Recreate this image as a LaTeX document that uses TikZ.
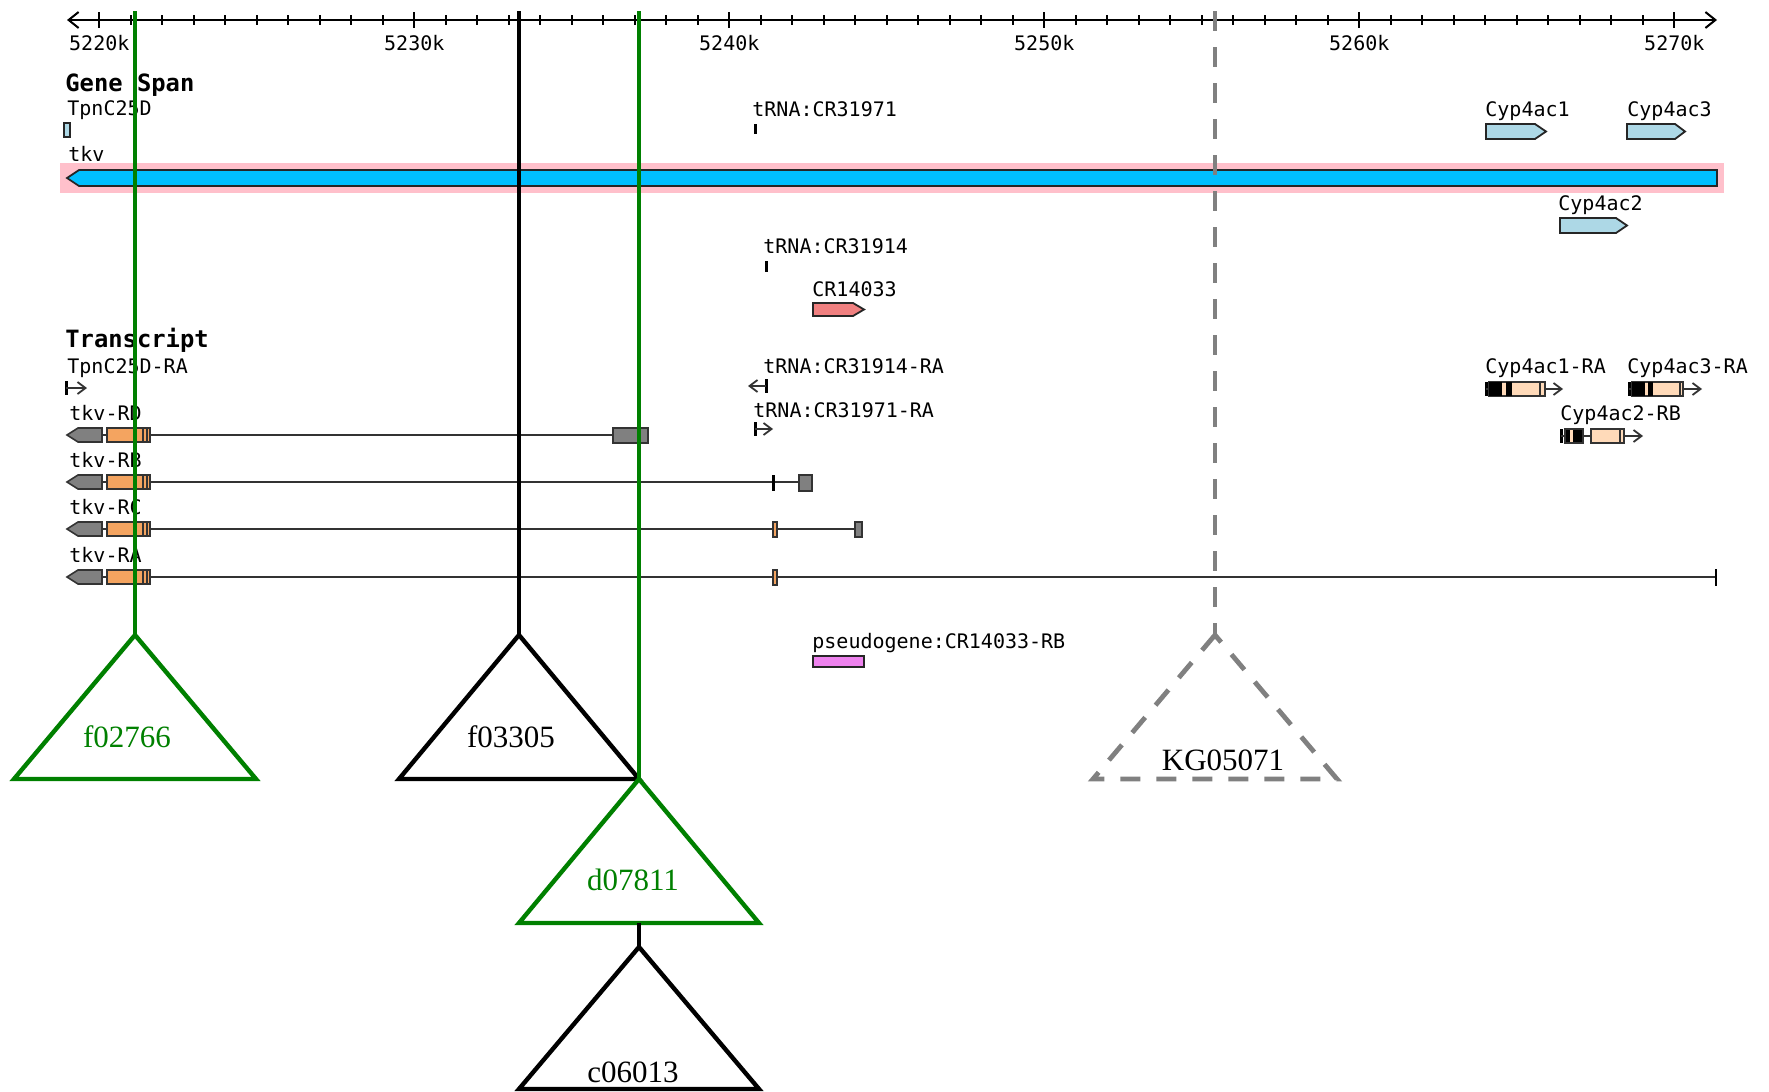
\documentclass[tikz,border=0pt]{standalone}
\usepackage{fontspec}
\setmainfont{Liberation Serif}
\setmonofont{DejaVu Sans Mono}
\usetikzlibrary{arrows.meta}

\definecolor{insgreen}{RGB}{0,128,0}
\definecolor{insgray}{RGB}{128,128,128}
\definecolor{hilite}{RGB}{255,192,203}
\definecolor{spanblue}{RGB}{0,191,255}
\definecolor{genecyp}{RGB}{173,216,230}
\definecolor{genered}{RGB}{240,128,128}
\definecolor{pseudoviolet}{RGB}{238,130,238}
\definecolor{utrgray}{RGB}{128,128,128}
\definecolor{cdsorange}{RGB}{244,164,96}
\definecolor{cyppeach}{RGB}{255,218,185}

\tikzset{
  glabel/.style={font=\ttfamily\fontsize{10}{12}\selectfont, anchor=base west, inner sep=0pt},
  trackname/.style={font=\ttfamily\bfseries\fontsize{11.9}{14}\selectfont, anchor=base west, inner sep=0pt},
  ticklabel/.style={font=\ttfamily\fontsize{10}{12}\selectfont, anchor=base, inner sep=0pt},
  inslabel/.style={font=\fontsize{15.5}{18}\selectfont, anchor=base, inner sep=0pt},
  axisline/.style={line width=1pt},
  gene/.style={draw=black!85, line width=0.9pt},
  exon/.style={draw=black!80, line width=0.8pt},
  intron/.style={draw=black!80, line width=0.9pt},
  tss/.style={intron, -{Straight Barb[length=4pt,width=6pt]}},
  startbar/.style={line width=1.5pt},
  insline/.style={line width=2pt},
  instri/.style={line width=2.2pt, line join=miter},
  insdash/.style={insgray, line width=2.4pt, dash pattern=on 10pt off 8pt},
}

\begin{document}
\begin{tikzpicture}[x=0.5pt,y=-0.5pt]
\useasboundingbox (0,0) rectangle (1769,1092);
\fill[white] (0,0) rectangle (1769,1092);

% ruler
\draw[axisline, {Straight Barb[length=5pt,width=8pt]}-{Straight Barb[length=5pt,width=8pt]}] (67,20) -- (1717,20);
\foreach \i in {0,...,50}
  \draw[axisline] (99.3+31.5*\i,15) -- (99.3+31.5*\i,25);
\foreach \i/\kb in {0/5220,1/5230,2/5240,3/5250,4/5260,5/5270} {
  \draw[axisline] (99.3+315*\i,12) -- (99.3+315*\i,28);
  \node[ticklabel] (tick\kb) at (99.3+315*\i,50) {\kb k};
}

% gene span track
\node[trackname] (genespan) at (65,91) {Gene Span};
\node[glabel] (tpnc) at (67,115) {TpnC25D};
\draw[gene, fill=genecyp] (64,123) rectangle (70,137);
\node[glabel] (tkv) at (68,161) {tkv};
\fill[hilite] (60,163) rectangle (1724,193);
\draw[gene, fill=spanblue] (67,178) -- (79,170) -- (1717,170) -- (1717,186) -- (79,186) -- cycle;

\node[glabel] (trnaA) at (752,116) {tRNA:CR31971};
\fill (754,124) rectangle (757,134);
\node[glabel] (cypA) at (1485,116) {Cyp4ac1};
\draw[gene, fill=genecyp] (1486,124) -- (1535,124) -- (1546,131.5) -- (1535,139) -- (1486,139) -- cycle;
\node[glabel] (cypC) at (1627,116) {Cyp4ac3};
\draw[gene, fill=genecyp] (1627,124) -- (1675,124) -- (1685,131.5) -- (1675,139) -- (1627,139) -- cycle;
\node[glabel] (cypB) at (1558,210) {Cyp4ac2};
\draw[gene, fill=genecyp] (1560,218) -- (1616,218) -- (1627,225.5) -- (1616,233) -- (1560,233) -- cycle;
\node[glabel] (trnaB) at (763,253) {tRNA:CR31914};
\fill (765,261) rectangle (768,272);
\node[glabel] (crgene) at (812,296) {CR14033};
\draw[gene, fill=genered] (813,303) -- (853,303) -- (864,309.5) -- (853,316) -- (813,316) -- cycle;

% transcript track
\node[trackname] (transcript) at (65,347) {Transcript};
\node[glabel] (tpncRA) at (67,373) {TpnC25D-RA};
\draw[startbar] (66,381) -- (66,395);
\draw[tss] (66,388) -- (87,388);

\node[glabel] (trnaBRA) at (763,373) {tRNA:CR31914-RA};
\draw[startbar] (766,379) -- (766,393);
\draw[tss] (766,386) -- (748,386);
\node[glabel] (trnaARA) at (753,417) {tRNA:CR31971-RA};
\draw[startbar] (755,422) -- (755,436);
\draw[tss] (755,429) -- (773,429);

\foreach \yy/\rname in {435/RD,482/RB,529/RC,577/RA} {
  \node[glabel] (tkv\rname) at (69,\yy-15) {tkv-\rname};
  \draw[exon, fill=utrgray] (67,\yy) -- (78,\yy-7) -- (102,\yy-7) -- (102,\yy+7) -- (78,\yy+7) -- cycle;
  \draw[intron] (102,\yy) -- (107,\yy);
  \draw[exon, fill=cdsorange] (107,\yy-7) rectangle (150,\yy+7);
  \draw[exon] (143,\yy-7) -- (143,\yy+7) (147,\yy-7) -- (147,\yy+7);
}
\draw[intron] (150,435) -- (613,435);
\draw[exon, fill=utrgray] (613,428) rectangle (648,443);
\draw[intron] (150,482) -- (799,482);
\fill (772,475) rectangle (775,491);
\draw[exon, fill=utrgray] (799,475) rectangle (812,491);
\draw[intron] (150,529) -- (855,529);
\draw[exon, fill=cdsorange] (773,522) rectangle (777,537);
\draw[exon, fill=utrgray] (855,522) rectangle (862,537);
\draw[intron] (150,577) -- (1716,577);
\draw[exon, fill=cdsorange] (773,570) rectangle (777,585);
\draw[axisline] (1716,569) -- (1716,586);

% Cyp4ac transcripts
\node[glabel] (cypARA) at (1485,373) {Cyp4ac1-RA};
\draw[startbar] (1486,382) -- (1486,396);
\draw[intron] (1486,389) -- (1489,389);
\draw[exon, fill=cyppeach] (1489,382) rectangle (1545,396);
\fill (1489,382) rectangle (1502,396);
\fill (1506,382) rectangle (1512,396);
\draw[exon] (1540,382) -- (1540,396);
\draw[tss] (1545,389) -- (1563,389);

\node[glabel] (cypCRA) at (1627,373) {Cyp4ac3-RA};
\draw[startbar] (1629,382) -- (1629,396);
\draw[intron] (1629,389) -- (1632,389);
\draw[exon, fill=cyppeach] (1632,382) rectangle (1683,396);
\fill (1632,382) rectangle (1645,396);
\fill (1648,382) rectangle (1653,396);
\draw[exon] (1680,382) -- (1680,396);
\draw[tss] (1683,389) -- (1702,389);

\node[glabel] (cypBRB) at (1560,420) {Cyp4ac2-RB};
\draw[startbar] (1561,429) -- (1561,443);
\draw[intron] (1561,436) -- (1565,436);
\draw[exon, fill=black] (1565,429) rectangle (1583,443);
\fill[cyppeach] (1570,430) rectangle (1573,442);
\draw[intron] (1583,436) -- (1591,436);
\draw[exon, fill=cyppeach] (1591,429) rectangle (1624,443);
\draw[exon] (1620,429) -- (1620,443);
\draw[tss] (1624,436) -- (1643,436);

\node[glabel] (pseudo) at (812,648) {pseudogene:CR14033-RB};
\draw[gene, fill=pseudoviolet] (813,656) rectangle (864,667);

% insertions
\coordinate (f02766) at (135,635);
\coordinate (f03305) at (519,635);
\coordinate (d07811) at (639,779);
\coordinate (d07811-base) at (639,923);
\coordinate (c06013) at (639,947);
\coordinate (KG05071) at (1215,635);

\draw[insdash] (1215,11) -- (KG05071);
\draw[insdash] (KG05071) -- ++(-122,144) -- ++(244,0) -- cycle;
\node[inslabel] (KG05071-lab) at (1223,770) {KG05071};

\draw[insline, insgreen] (135,11) -- (f02766);
\draw[instri, insgreen] (f02766) -- ++(-121,144) -- ++(242,0) -- cycle;
\node[inslabel, text=insgreen] (f02766-lab) at (127,747) {f02766};

\draw[insline] (519,11) -- (f03305);
\draw[instri] (f03305) -- ++(-120,144) -- ++(240,0) -- cycle;
\node[inslabel] (f03305-lab) at (511,747) {f03305};

\draw[insline, insgreen] (639,11) -- (d07811);
\draw[instri, insgreen] (d07811) -- ++(-120,144) -- ++(240,0) -- cycle;
\node[inslabel, text=insgreen] (d07811-lab) at (633,890) {d07811};

\draw[insline] (d07811-base) -- (c06013);
\draw[instri] (c06013) -- ++(-120,142) -- ++(240,0) -- cycle;
\node[inslabel] (c06013-lab) at (633,1082) {c06013};
\end{tikzpicture}
\end{document}
